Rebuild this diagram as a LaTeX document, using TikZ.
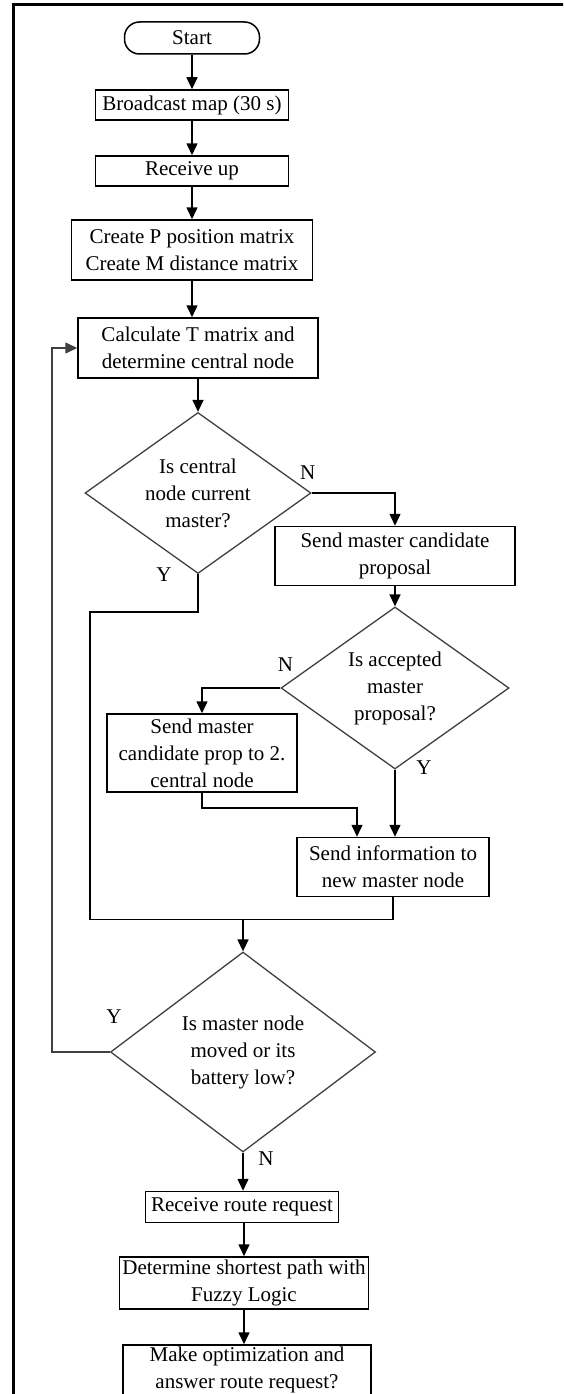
\documentclass[tikz,border=0pt]{standalone}
\usepackage{fontspec}
\setmainfont{Liberation Serif}
\usetikzlibrary{arrows.meta,shapes.geometric,calc}
\tikzset{
    start/.style = {rectangle,
                    rounded corners=15pt,
                    fill=white,
                    draw=black,
                    text=black,
                    line width=1.5pt,
                    inner sep=0pt,
                    minimum width=135pt,
                    minimum height=32pt},
    box/.style =   {rectangle,
                    fill=white,
                    draw=black,
                    text=black,
                    line width=1.5pt,
                    inner sep=0pt,
                    align=center},
    test/.style =  {diamond,
                    fill=white,
                    draw=black!75,
                    text=black,
                    line width=1.3pt,
                    inner sep=0pt,
                    align=center},
    yn/.style =    {inner sep=0pt,
                    text=black},
    -,
    >={Triangle[length=12pt,width=11pt]},
    font=\fontsize{21}{27}\selectfont,
    node distance=66pt}

\begin{document}
\begin{tikzpicture}[x=1pt,y=-1pt]
                \useasboundingbox (0,0) rectangle (563,1394);
                \clip (0,0) rectangle (563,1394);
                \draw [line width=3pt] (13,1400) -- (13,5) -- (570,5);

                \node[start]  (S)  at (192,38)            {Start};
                \node[box,minimum width=193pt,minimum height=30pt] (B) [below of=S,node distance=67pt] {Broadcast map (30 s)};
                \node[box,minimum width=193pt,minimum height=30pt] (R) [below of=B] {Receive up};
                \node[box,minimum width=241pt,minimum height=60pt] (C) [below of=R,node distance=79pt] {Create P position matrix\\Create M distance matrix};
                \node[box,minimum width=240pt,minimum height=60pt] (T) [below of=C,node distance=98pt,xshift=6pt] {Calculate T matrix and\\determine central node};
                \node[test,minimum width=226pt,minimum height=161pt,shape aspect=1.4] (D1) [below of=T,node distance=145pt] {Is central\\node current\\master?};
                \node[box,minimum width=240pt,minimum height=59pt] (SC) [right of=D1,node distance=197pt,yshift=-63pt] {Send master candidate\\proposal};
                \node[test,minimum width=228pt,minimum height=162pt,shape aspect=1.4] (D2) [below of=SC,node distance=132pt] {Is accepted\\master\\proposal?};
                \node[box,minimum width=190pt,minimum height=78pt] (SP) [left of=D2,node distance=193pt,yshift=-65pt] {Send master\\candidate prop to 2.\\central node};
                \node[box,minimum width=192pt,minimum height=59pt] (SI) [below of=D2,node distance=179pt,xshift=-2pt] {Send information to\\new master node};
                \node[test,minimum width=265pt,minimum height=200pt,shape aspect=1.32] (D3) [below of=D1,node distance=559pt,xshift=45pt] {Is master node\\moved or its\\battery low?};
                \node[box,minimum width=193pt,minimum height=31pt] (RR) [below of=D3,node distance=155pt,xshift=-1pt] {Receive route request};
                \node[box,minimum width=249pt,minimum height=52pt] (SH) [below of=RR,node distance=76pt,xshift=2pt] {Determine shortest path with\\Fuzzy Logic};
                \node[box,minimum width=248pt,minimum height=50pt] (OP) [below of=SH,node distance=87pt,xshift=3pt] {Make optimization and\\answer route request?};

                % yes / no marks
                \node[yn] (N1) at ($(D1.east)+(-4,-20)$)  {N};
                \node[yn] (Y1) at ($(D1.south)+(-34,0)$)  {Y};
                \node[yn] (N2) at ($(D2.west)+(5,-23)$)   {N};
                \node[yn] (Y2) at ($(D2.south)+(29,-2)$)  {Y};
                \node[yn] (Y3) at ($(D3.west)+(4,-35)$)   {Y};
                \node[yn] (N3) at ($(D3.south)+(23,6)$)   {N};

                \coordinate (j1) at (357,808);
                \coordinate (j2) at (90,612);
                \coordinate (j3) at ($(D3.north)+(0,-32)$);
                \coordinate (j4) at (52,1052);

                \path [line width=1.5pt,->]  (S) edge [] node [] {} (B)
                                             (B) edge [] node [] {} (R)
                                             (R) edge [] node [] {} (C)
                                             (SC) edge [] node [] {} (D2);
                \draw [line width=1.5pt,->] (C.south) -- (C.south |- T.north);
                \draw [line width=1.5pt,->] (T.south) -- (T.south |- D1.north);
                \draw [line width=1.5pt,->] (D1.east) -| (SC.north);
                \draw [line width=1.5pt,->] (D2.west) -| (SP.north);
                \draw [line width=1.5pt,->] (D2.south) -- (D2.south |- SI.north);
                \draw [line width=1.5pt,->] (SP.south) |- (j1) -- (j1 |- SI.north);
                \draw [line width=1.5pt] (D1.south) |- (j2) |- (j3) -- (SI.south |- j3) -- (SI.south);
                \draw [line width=1.5pt,->] (j3) -- (D3.north);
                \draw [line width=1.5pt,draw=black!75,->] (D3.west) -- (j4) |- (T.west);
                \draw [line width=1.5pt,->] (D3.south) -- (D3.south |- RR.north);
                \draw [line width=1.5pt,->] (SH.north |- RR.south) -- (SH.north);
                \draw [line width=1.5pt,->] (SH.south) -- (SH.south |- OP.north);
        \end{tikzpicture}
\end{document}
